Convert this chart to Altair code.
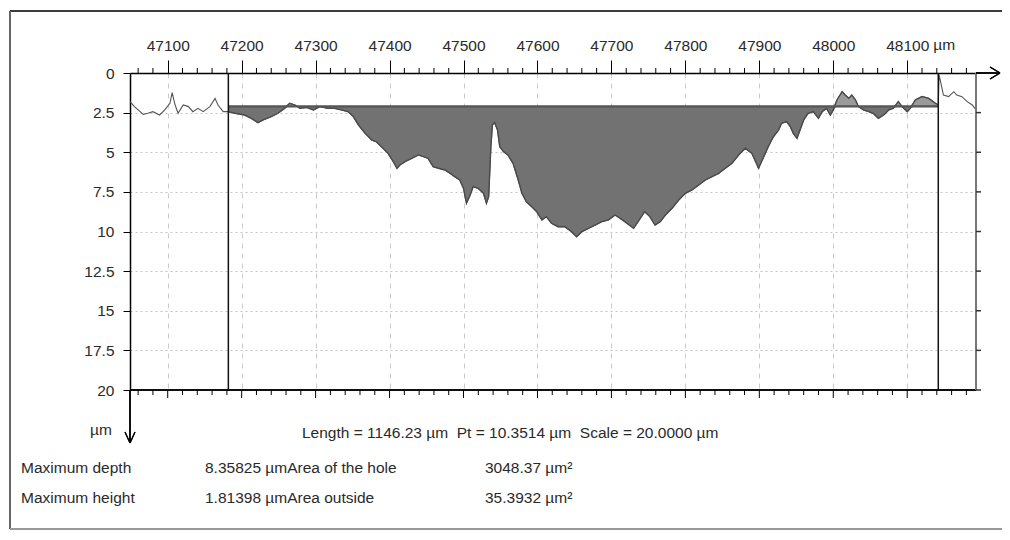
import altair as alt
import pandas as pd

# ---------------- data ----------------
x_um = [47049, 47055, 47067, 47073, 47080, 47089, 47096, 47103, 47106, 47110,
        47114, 47121, 47128, 47134, 47141, 47148, 47157, 47164, 47168, 47175,
        47182, 47191, 47204, 47213, 47222, 47229, 47240, 47249, 47258, 47265,
        47272, 47279, 47288, 47297, 47306, 47317, 47326, 47335, 47344, 47351,
        47358, 47367, 47376, 47382, 47389, 47398, 47405, 47410, 47414, 47421,
        47430, 47439, 47446, 47452, 47459, 47466, 47475, 47482, 47488, 47495,
        47500, 47504, 47509, 47513, 47520, 47527, 47531, 47534, 47537, 47539,
        47542, 47546, 47549, 47554, 47560, 47567, 47574, 47579, 47585, 47592,
        47599, 47606, 47612, 47619, 47628, 47637, 47646, 47653, 47660, 47669,
        47678, 47687, 47696, 47705, 47712, 47721, 47730, 47736, 47745, 47752,
        47759, 47766, 47773, 47782, 47791, 47800, 47809, 47818, 47827, 47836,
        47845, 47854, 47863, 47872, 47881, 47890, 47899, 47906, 47912, 47919,
        47926, 47930, 47937, 47942, 47946, 47951, 47955, 47960, 47966, 47973,
        47980, 47985, 47991, 47996, 48000, 48005, 48012, 48016, 48021, 48025,
        48030, 48034, 48041, 48048, 48054, 48061, 48068, 48075, 48081, 48088,
        48093, 48100, 48104, 48111, 48120, 48129, 48138, 48142, 48143, 48149,
        48156, 48163, 48167, 48174, 48181, 48188, 48193]
depth_um = [1.81, 2.12, 2.61, 2.54, 2.44, 2.65, 2.33, 1.91, 1.24, 2.02,
            2.54, 2.02, 2.12, 2.44, 2.23, 2.44, 2.12, 1.60, 2.02, 2.44,
            2.44, 2.54, 2.65, 2.86, 3.13, 2.96, 2.75, 2.54, 2.23, 1.91,
            2.02, 2.23, 2.17, 2.33, 2.12, 2.23, 2.23, 2.33, 2.44, 2.75,
            3.28, 3.81, 4.23, 4.33, 4.65, 5.07, 5.59, 6.01, 5.80, 5.59,
            5.38, 5.17, 5.28, 5.38, 5.91, 6.01, 6.12, 6.33, 6.54, 6.75,
            7.28, 8.22, 7.70, 7.17, 7.28, 7.59, 8.22, 7.80, 4.65, 3.28,
            3.13, 3.60, 4.65, 4.96, 5.17, 5.70, 6.75, 7.59, 8.12, 8.43,
            8.75, 9.27, 9.06, 9.48, 9.70, 9.70, 10.01, 10.33, 10.01, 9.80,
            9.59, 9.38, 9.27, 8.96, 9.17, 9.48, 9.80, 9.38, 8.75, 9.06,
            9.59, 9.38, 8.96, 8.54, 8.01, 7.59, 7.38, 7.07, 6.75, 6.54,
            6.33, 6.01, 5.70, 5.17, 4.75, 5.07, 6.01, 5.28, 4.65, 4.02,
            3.60, 3.17, 3.07, 3.39, 3.81, 4.12, 3.60, 2.96, 2.54, 2.44,
            2.86, 2.44, 2.23, 2.65, 2.33, 1.70, 1.18, 1.39, 1.60, 1.39,
            1.70, 2.12, 2.33, 2.44, 2.54, 2.86, 2.65, 2.33, 2.23, 1.81,
            2.12, 2.44, 2.23, 1.70, 1.49, 1.60, 1.91, 2.02, 0.10, 1.39,
            1.49, 1.18, 1.39, 1.49, 1.81, 2.02, 2.33]

cursor_x = [47182, 48142]
ref_depth = 2.1
x_domain = [47049, 48193]
y_domain = [0, 20]

x_major = [47100, 47200, 47300, 47400, 47500, 47600, 47700, 47800, 47900, 48000, 48100]
x_minor = [v for v in range(47060, 48193, 20) if v % 100 != 0]
y_major = [0, 2.5, 5, 7.5, 10, 12.5, 15, 17.5, 20]

x_unit = "µm"
y_unit = "µm"
summary_line = "Length = 1146.23 µm\u00a0\u00a0Pt = 10.3514 µm\u00a0\u00a0Scale = 20.0000 µm"
row_names = ["Maximum depth", "Maximum height"]
row_values = ["8.35825 µmArea of the hole", "1.81398 µmArea outside"]
row_areas = ["3048.37 µm²", "35.3932 µm²"]

# ---------------- tables ----------------
prof = pd.DataFrame({"x": x_um, "d": depth_um})
mid = prof[(prof.x >= cursor_x[0]) & (prof.x <= cursor_x[1])].copy()
mid["ref"] = ref_depth
mid["below"] = mid["d"].clip(lower=ref_depth)
mid["above"] = mid["d"].clip(upper=ref_depth)
cur = pd.DataFrame({"x": cursor_x})
ticks_all = pd.DataFrame({"x": x_minor})
ticks_major = pd.DataFrame({"x": x_major})
ymaj = pd.DataFrame({"y": y_major})

FONT = "Liberation Sans, Arial, sans-serif"
FS = 15.5
TXT = "#2a2a2a"
W, H = 846, 317

xs = alt.Scale(domain=x_domain, nice=False, zero=False)
ys = alt.Scale(domain=y_domain, reverse=True, nice=False, zero=False)

x_axis = alt.Axis(orient="top", values=x_major, format="d", title=None,
                  labelFont=FONT, labelFontSize=FS, labelColor=TXT,
                  tickSize=13, tickColor="#000", tickWidth=1,
                  domainColor="#000", domainWidth=1.5,
                  grid=True, gridDash=[5, 5], gridColor="#cbcbcb",
                  labelPadding=7, labelFlush=False, labelOverlap=False)
y_axis = alt.Axis(orient="left", values=y_major, title=None,
                  labelExpr="'' + datum.value",
                  labelFont=FONT, labelFontSize=FS, labelColor=TXT,
                  tickSize=7, tickColor="#000", domainColor="#000",
                  domainWidth=1.5, labelPadding=9,
                  grid=True, gridDash=[2, 3], gridColor="#c4c4c4",
                  labelFlush=False, labelOverlap=False)


def X(f):
    return alt.X(f, type="quantitative", scale=xs, axis=x_axis)


def Y(f):
    return alt.Y(f, type="quantitative", scale=ys, axis=y_axis)


base_line = alt.Chart(prof).mark_line(color="#555555", strokeWidth=1.1).encode(
    x=X("x"), y=Y("d"))

area_below = alt.Chart(mid).mark_area(color="#727272", opacity=1).encode(
    x=X("x"), y=Y("below"), y2="ref")
area_above = alt.Chart(mid).mark_area(color="#9a9a9a", opacity=1).encode(
    x=X("x"), y=Y("above"), y2="ref")
mid_edge = alt.Chart(mid).mark_line(color="#4a4a4a", strokeWidth=1.4).encode(
    x=X("x"), y=Y("d"))
ref_rule = alt.Chart(pd.DataFrame({"x": [cursor_x[0]], "x2": [cursor_x[1]], "y": [ref_depth]})).mark_rule(
    color="#555555", strokeWidth=2.2).encode(x=X("x"), x2="x2", y=Y("y"))
cursor_rules = alt.Chart(cur).mark_rule(color="#111", strokeWidth=1.5).encode(
    x=X("x"), y=alt.value(0), y2=alt.value(H))

bottom_edge = alt.Chart(cur).mark_rule(color="#000", strokeWidth=1.5).encode(
    x=alt.value(0), x2=alt.value(W), y=alt.value(H))
right_edge = alt.Chart(cur).mark_rule(color="#777", strokeWidth=2).encode(
    x=alt.value(W), y=alt.value(0), y2=alt.value(H))

top_minor = alt.Chart(ticks_all).mark_rule(color="#000", strokeWidth=1).encode(
    x=X("x"), y=alt.value(-5), y2=alt.value(0))
bot_minor = alt.Chart(ticks_all).mark_rule(color="#000", strokeWidth=1).encode(
    x=X("x"), y=alt.value(H), y2=alt.value(H + 5))
bot_major = alt.Chart(ticks_major).mark_rule(color="#000", strokeWidth=1).encode(
    x=X("x"), y=alt.value(H), y2=alt.value(H + 8))
right_ticks = alt.Chart(ymaj).mark_rule(color="#333", strokeWidth=1.5).encode(
    y=Y("y"), x=alt.value(W), x2=alt.value(W + 5))

arrow_h = alt.Chart(cur).mark_rule(color="#000", strokeWidth=1.5).encode(
    x=alt.value(W), x2=alt.value(W + 24), y=alt.value(0))
arrow_h1 = alt.Chart(cur).mark_rule(color="#000", strokeWidth=1.2).encode(
    x=alt.value(W + 14), x2=alt.value(W + 24), y=alt.value(-6), y2=alt.value(0))
arrow_h2 = alt.Chart(cur).mark_rule(color="#000", strokeWidth=1.2).encode(
    x=alt.value(W + 14), x2=alt.value(W + 24), y=alt.value(6), y2=alt.value(0))
arrow_v = alt.Chart(cur).mark_rule(color="#000", strokeWidth=1.5).encode(
    x=alt.value(0), y=alt.value(H), y2=alt.value(H + 53))
arrow_v1 = alt.Chart(cur).mark_rule(color="#000", strokeWidth=1.2).encode(
    x=alt.value(-5), x2=alt.value(0), y=alt.value(H + 42), y2=alt.value(H + 53))
arrow_v2 = alt.Chart(cur).mark_rule(color="#000", strokeWidth=1.2).encode(
    x=alt.value(5), x2=alt.value(0), y=alt.value(H + 42), y2=alt.value(H + 53))


def label(text, x, y, align="left", size=FS):
    return alt.Chart(pd.DataFrame({"t": [text]})).mark_text(
        font=FONT, fontSize=size, color=TXT, align=align, baseline="middle"
    ).encode(x=alt.value(x), y=alt.value(y), text="t:N")


unit_top = alt.Chart(pd.DataFrame({"x": [x_major[-1]], "t": [x_unit]})).mark_text(
    font=FONT, fontSize=FS, color=TXT, align="left", baseline="middle", dx=26, dy=-28
).encode(x=X("x"), y=alt.value(0), text="t:N")

texts = [
    unit_top,
    label(y_unit, -29, 357, align="center"),
    label(summary_line, 172, 360),
    label(row_names[0], -109, 395), label(row_values[0], 75, 395), label(row_areas[0], 355, 395),
    label(row_names[1], -109, 425), label(row_values[1], 75, 425), label(row_areas[1], 355, 425),
]

frame_top = alt.Chart(cur).mark_rule(color="#3c3c3c", strokeWidth=2).encode(
    x=alt.value(-120), x2=alt.value(872), y=alt.value(-62))
frame_left = alt.Chart(cur).mark_rule(color="#666", strokeWidth=2).encode(
    x=alt.value(-120), y=alt.value(-62), y2=alt.value(456))
frame_bottom = alt.Chart(cur).mark_rule(color="#999", strokeWidth=2).encode(
    x=alt.value(-120), x2=alt.value(872), y=alt.value(456))

chart = alt.layer(
    base_line, area_below, area_above, mid_edge, ref_rule, cursor_rules,
    bottom_edge, right_edge, top_minor, bot_minor, bot_major, right_ticks,
    arrow_h, arrow_h1, arrow_h2, arrow_v, arrow_v1, arrow_v2,
    frame_top, frame_left, frame_bottom, *texts
).properties(
    width=W, height=H,
    autosize=alt.AutoSizeParams(type="none"),
    padding={"left": 122, "top": 65, "right": 26, "bottom": 140},
    background="white",
).configure_view(stroke=None)

chart.save("out.html", embed_options={"renderer": "svg", "actions": False})
